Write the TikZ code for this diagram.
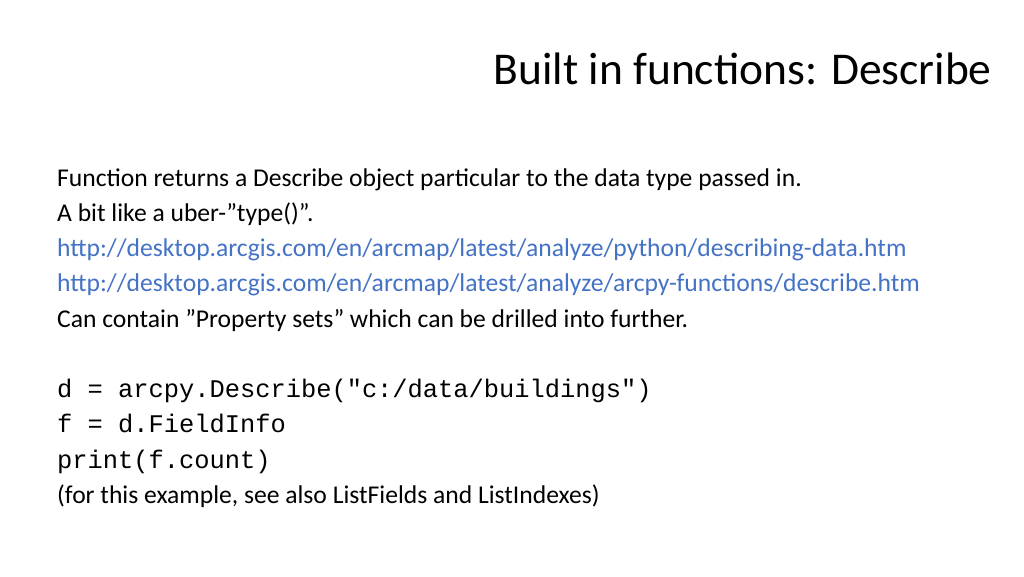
\documentclass[tikz,border=0pt]{standalone}
\usepackage{fontspec}
\setmainfont{Carlito}[Ligatures=ResetAll]
\setmonofont{Liberation Mono}
\definecolor{linkc}{HTML}{4472C4}
\begin{document}
\begin{tikzpicture}[x=1pt,y=1pt,
  body/.style={anchor=base west,inner sep=0pt,font=\fontsize{25.6}{30}\selectfont},
  code/.style={anchor=base west,inner sep=0pt,font=\ttfamily\fontsize{25.4}{30}\selectfont},
  link/.style={body,text=linkc}]
\useasboundingbox (0,0) rectangle (1024,576);
\node[anchor=base east,inner sep=0pt,font=\fontsize{45.5}{54}\selectfont] (title) at (992,576-85) {Built in functions: Describe};
\node[body] (l1) at (57,576-187) {Function returns a Describe object particular to the data type passed in.};
\node[body] (l2) at (57,576-222) {A bit like a uber-"type()".};
\node[link] (l3) at (57,576-257) {http://desktop.arcgis.com/en/arcmap/latest/analyze/python/describing-data.htm};
\node[link] (l4) at (57,576-292) {http://desktop.arcgis.com/en/arcmap/latest/analyze/arcpy-functions/describe.htm};
\node[body] (l5) at (57,576-327) {Can contain "Property sets" which can be drilled into further.};
\node[code] (c1) at (57,576-397) {d = arcpy.Describe("c:/data/buildings")};
\node[code] (c2) at (57,576-432) {f = d.FieldInfo};
\node[code] (c3) at (57,576-468) {print(f.count)};
\node[body] (l6) at (57,576-503) {(for this example, see also ListFields and ListIndexes)};
\end{tikzpicture}
\end{document}
